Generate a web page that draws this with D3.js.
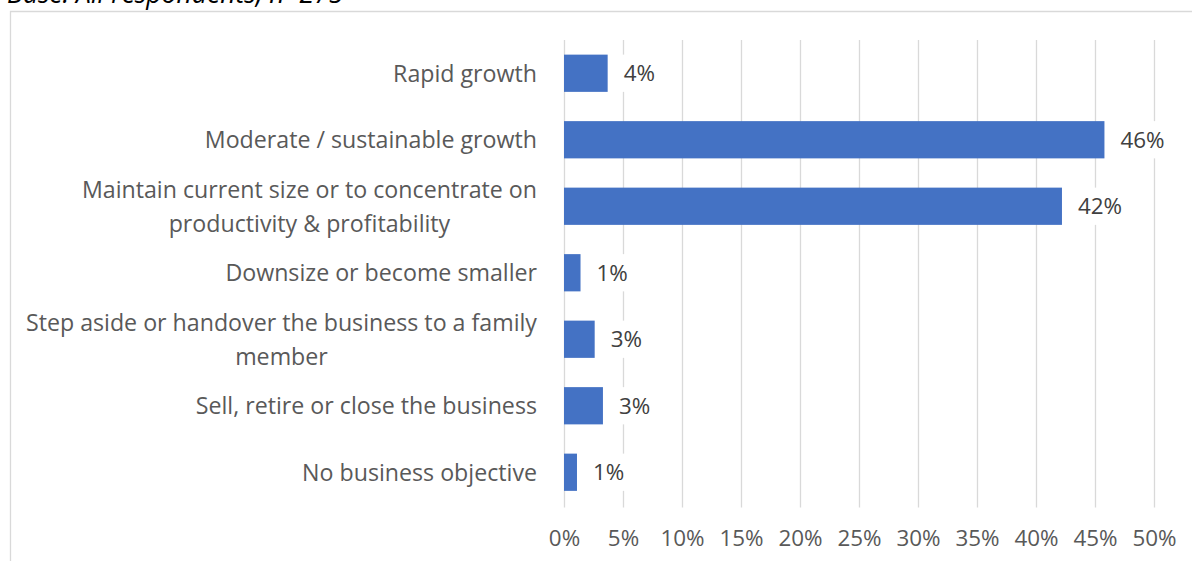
<!DOCTYPE html>
<html>
<head>
<meta charset="utf-8">
<script src="https://cdn.jsdelivr.net/npm/d3@7"></script>
<style>
  html, body { margin: 0; padding: 0; background: #fff; overflow: hidden; }
  svg { display: block; }
</style>
</head>
<body>
<svg id="chart" width="1192" height="561"></svg>
<script>
// Business objectives, share of respondents
const categories = [
  "Rapid growth",
  "Moderate / sustainable growth",
  "Maintain current size or to concentrate on productivity & profitability",
  "Downsize or become smaller",
  "Step aside or handover the business to a family member",
  "Sell, retire or close the business",
  "No business objective"
];
const values = [0.037, 0.458, 0.422, 0.014, 0.026, 0.033, 0.011];
const tickValues = [0, 0.05, 0.10, 0.15, 0.20, 0.25, 0.30, 0.35, 0.40, 0.45, 0.50];
const baseNote = "Base: All respondents, n=275";

const W = 1192, H = 561;
const margin = { top: 40, right: 38, bottom: 55.5, left: 564 };
const font = "'Open Sans', sans-serif";
const fontSize = 22.4;
const catFontSize = 23.2;

const svg = d3.select("#chart");

// Chart area frame
svg.append("path")
  .attr("d", `M10.5,${H + 2} V11.5 H${W + 2}`)
  .attr("fill", "none")
  .attr("stroke", "#d9d9d9")
  .attr("stroke-width", 1.3);

// Base note above the chart area
svg.append("text")
  .attr("x", 7)
  .attr("y", 3)
  .attr("font-family", font)
  .attr("font-style", "italic")
  .attr("font-size", 26.5)
  .attr("fill", "#000")
  .text(baseNote);

const x = d3.scaleLinear()
  .domain([0, 0.5])
  .range([margin.left, W - margin.right]);

const y = d3.scaleBand()
  .domain(categories)
  .range([margin.top, H - margin.bottom])
  .paddingInner(0.44)
  .paddingOuter(0.22);

const g = svg.append("g");

// Vertical gridlines
g.selectAll("line.grid")
  .data(tickValues)
  .join("line")
  .attr("class", "grid")
  .attr("x1", d => Math.round(x(d)) + 0.5)
  .attr("x2", d => Math.round(x(d)) + 0.5)
  .attr("y1", margin.top)
  .attr("y2", H - margin.bottom + 2)
  .attr("stroke", "#d9d9d9")
  .attr("stroke-width", 1.3);

// X axis tick labels
const xAxis = d3.axisBottom(x)
  .tickValues(tickValues)
  .tickFormat(d3.format(".0%"))
  .tickSize(0)
  .tickPadding(0);

const axG = svg.append("g")
  .attr("transform", `translate(0, ${H - margin.bottom})`)
  .call(xAxis);
axG.select(".domain").remove();
axG.selectAll("text")
  .attr("font-family", font)
  .attr("font-size", fontSize)
  .attr("fill", "#595959")
  .attr("y", 40)
  .attr("dy", 0);

// Bars
g.selectAll("rect.bar")
  .data(categories)
  .join("rect")
  .attr("class", "bar")
  .attr("x", x(0))
  .attr("y", d => y(d))
  .attr("width", (d, i) => x(values[i]) - x(0))
  .attr("height", y.bandwidth())
  .attr("fill", "#4472c4");

// Data labels with white backing boxes
const fmt = d3.format(".0%");
const lab = g.selectAll("g.lab")
  .data(categories)
  .join("g")
  .attr("class", "lab");

lab.each(function (d, i) {
  const sel = d3.select(this);
  const tx = x(values[i]) + 16;
  const box = sel.append("rect").attr("fill", "#fff");
  const t = sel.append("text")
    .attr("x", tx)
    .attr("y", y(d) + y.bandwidth() / 2)
    .attr("dy", "0.36em")
    .attr("font-family", font)
    .attr("font-size", fontSize)
    .attr("fill", "#404040")
    .text(fmt(values[i]));
  const w = t.node().getComputedTextLength();
  box.attr("x", tx - 7)
    .attr("y", y(d))
    .attr("width", w + 14)
    .attr("height", y.bandwidth());
});

// Category labels, wrapped and centred as a block right-aligned to the axis
const labelRight = margin.left - 27;
const maxLine = 530;
const lineH = 34;

categories.forEach(cat => {
  const cy = y(cat) + y.bandwidth() / 2;
  const t = svg.append("text")
    .attr("font-family", font)
    .attr("font-size", catFontSize)
    .attr("fill", "#595959")
    .attr("text-anchor", "middle");

  const words = cat.split(" ");
  const lines = [];
  let cur = [];
  const probe = t.append("tspan");
  words.forEach(wd => {
    const test = cur.concat([wd]).join(" ");
    probe.text(test);
    if (probe.node().getComputedTextLength() > maxLine && cur.length) {
      lines.push(cur.join(" "));
      cur = [wd];
    } else {
      cur.push(wd);
    }
  });
  lines.push(cur.join(" "));

  let widest = 0;
  lines.forEach(l => {
    probe.text(l);
    widest = Math.max(widest, probe.node().getComputedTextLength());
  });
  probe.remove();

  const cx = labelRight - widest / 2;
  const y0 = cy - (lines.length - 1) * lineH / 2;
  lines.forEach((l, k) => {
    t.append("tspan")
      .attr("x", cx)
      .attr("y", y0 + k * lineH)
      .attr("dy", "0.36em")
      .text(l);
  });
});
</script>
</body>
</html>
